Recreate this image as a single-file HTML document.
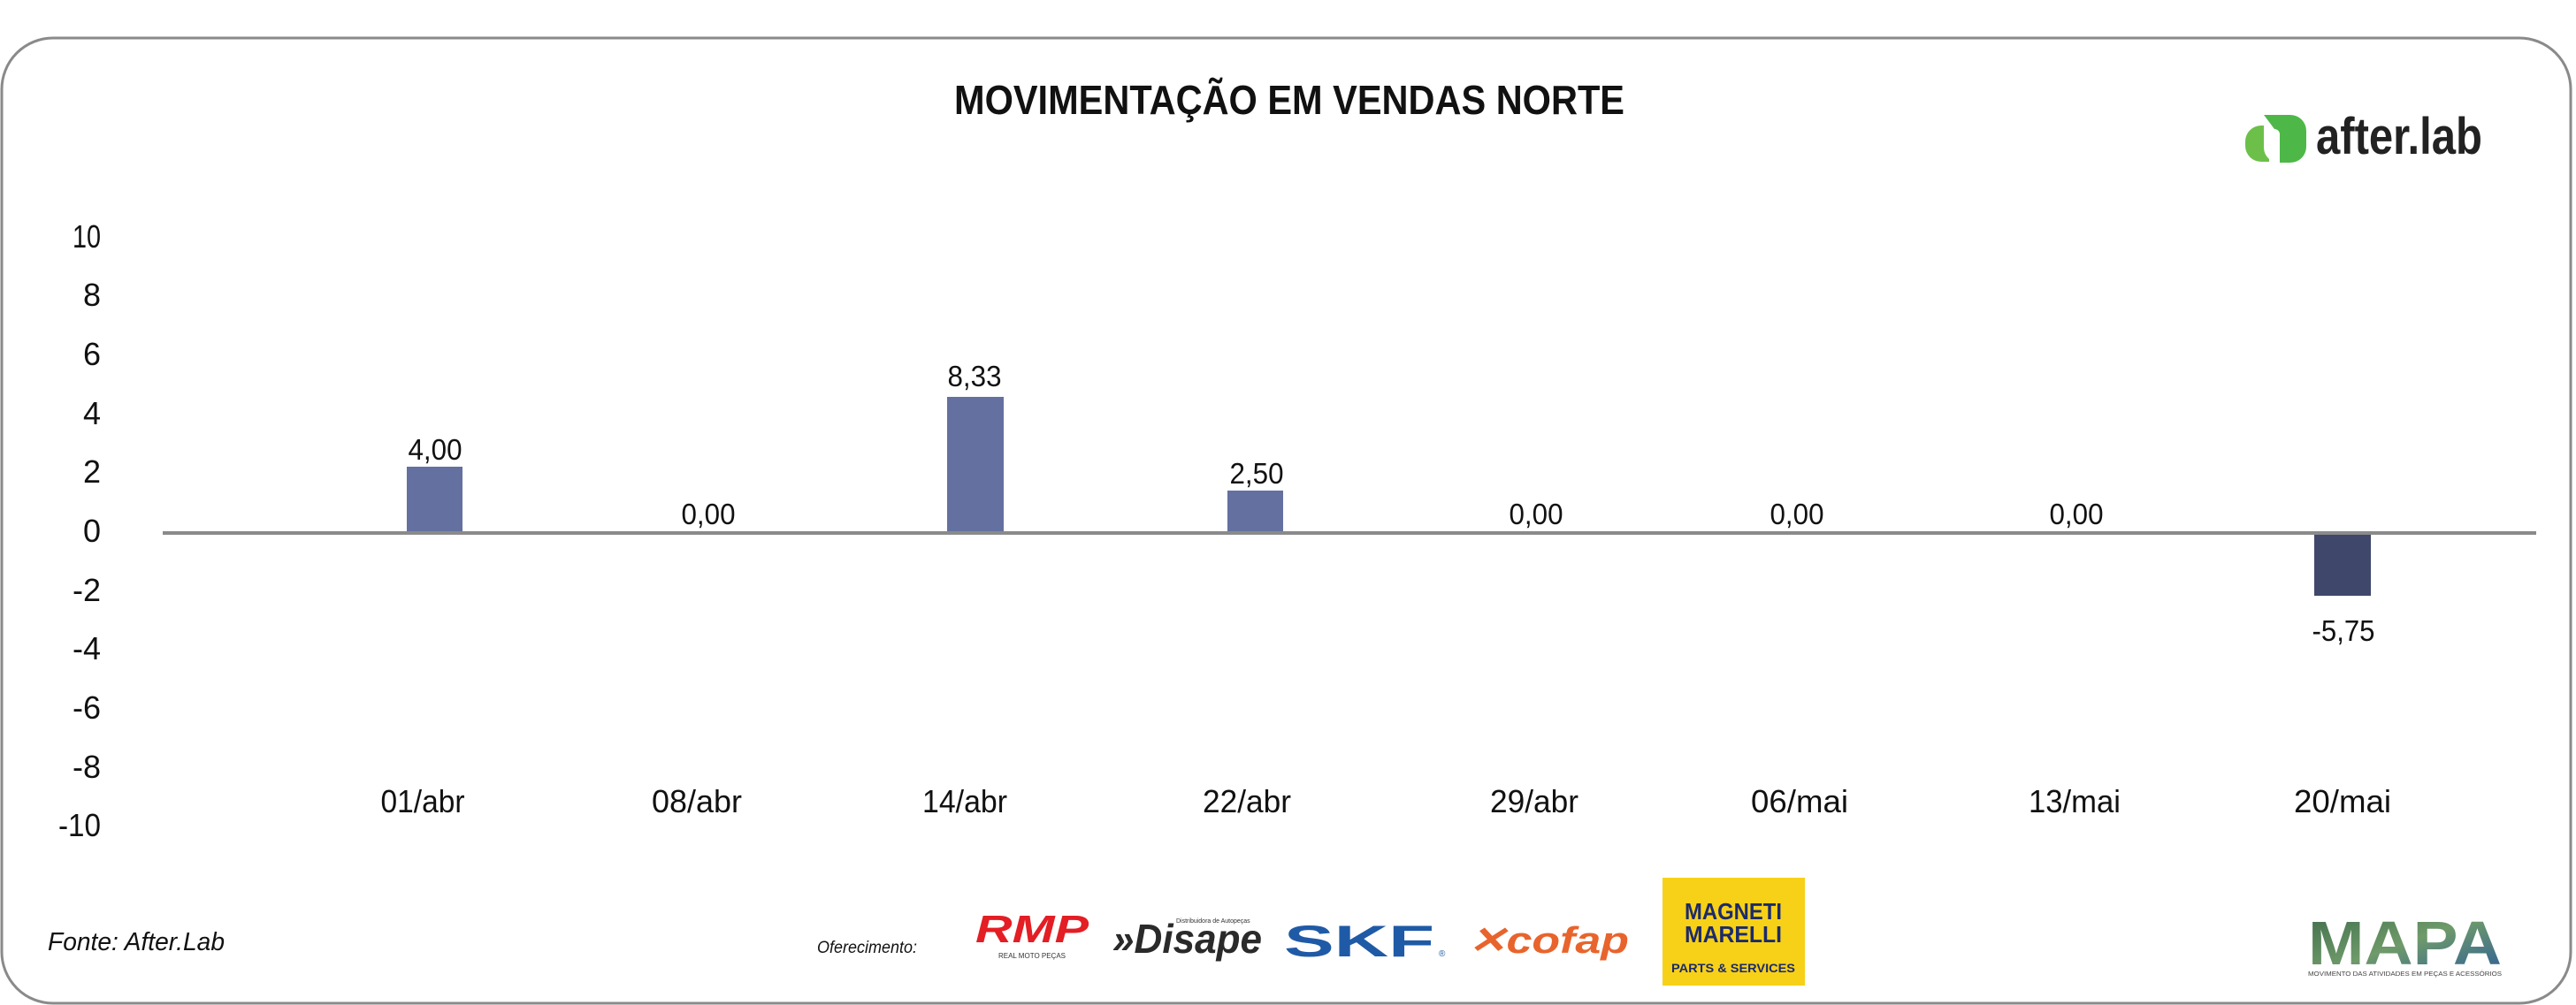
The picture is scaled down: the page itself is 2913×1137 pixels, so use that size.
<!DOCTYPE html>
<html><head><meta charset="utf-8"><style>html,body{margin:0;padding:0;background:#fff}svg{display:block}</style></head>
<body>
<svg width="2913" height="1137" viewBox="0 0 2913 1137" xmlns="http://www.w3.org/2000/svg" font-family="Liberation Sans, sans-serif">
<rect x="0" y="0" width="2913" height="1137" fill="#fff"/>
<rect x="2" y="43" width="2905" height="1092" rx="58" ry="58" fill="none" stroke="#8a8a8a" stroke-width="3"/>
<text x="1458" y="129" text-anchor="middle" font-size="46" font-weight="bold" fill="#111" textLength="758" lengthAdjust="spacingAndGlyphs">MOVIMENTAÇÃO EM VENDAS NORTE</text>
<path d="M2560 130 h30 a18 18 0 0 1 18 18 v18 a18 18 0 0 1 -18 18 h-12 v-32 a6 6 0 0 0 -6 -6 z" fill="#4db848"/>
<path d="M2539 160 a18 18 0 0 1 18 -18 h3 v24 a18 18 0 0 0 6 14 v3 h-9 a18 18 0 0 1 -18 -18 z" fill="#6cc04a"/>
<text x="2619" y="174" font-size="58" font-weight="bold" fill="#222" textLength="188" lengthAdjust="spacingAndGlyphs">after.lab</text>
<g font-size="36" fill="#111" text-anchor="end">
<text x="114" y="280" textLength="32" lengthAdjust="spacingAndGlyphs">10</text><text x="114" y="346">8</text><text x="114" y="413">6</text><text x="114" y="480">4</text><text x="114" y="546">2</text><text x="114" y="613">0</text><text x="114" y="680" textLength="32" lengthAdjust="spacingAndGlyphs">-2</text><text x="114" y="746" textLength="32" lengthAdjust="spacingAndGlyphs">-4</text><text x="114" y="813" textLength="32" lengthAdjust="spacingAndGlyphs">-6</text><text x="114" y="880" textLength="32" lengthAdjust="spacingAndGlyphs">-8</text><text x="114" y="946" textLength="48" lengthAdjust="spacingAndGlyphs">-10</text>
</g>
<rect x="460" y="528" width="63" height="75" fill="#6470a0"/>
<rect x="1071" y="449" width="64" height="154" fill="#6470a0"/>
<rect x="1388" y="555" width="63" height="48" fill="#6470a0"/>
<rect x="2617" y="603" width="64" height="71" fill="#3f476b"/>
<line x1="184" y1="603" x2="2868" y2="603" stroke="#8a8a8a" stroke-width="4"/>
<g font-size="33" fill="#111" text-anchor="middle">
<text x="492" y="520" textLength="61" lengthAdjust="spacingAndGlyphs">4,00</text><text x="801" y="593" textLength="61" lengthAdjust="spacingAndGlyphs">0,00</text><text x="1102" y="437" textLength="61" lengthAdjust="spacingAndGlyphs">8,33</text><text x="1421" y="547" textLength="61" lengthAdjust="spacingAndGlyphs">2,50</text>
<text x="1737" y="593" textLength="61" lengthAdjust="spacingAndGlyphs">0,00</text><text x="2032" y="593" textLength="61" lengthAdjust="spacingAndGlyphs">0,00</text><text x="2348" y="593" textLength="61" lengthAdjust="spacingAndGlyphs">0,00</text><text x="2650" y="725" textLength="71" lengthAdjust="spacingAndGlyphs">-5,75</text>
</g>
<g font-size="36" fill="#111" text-anchor="middle">
<text x="478" y="919" textLength="95" lengthAdjust="spacingAndGlyphs">01/abr</text><text x="788" y="919" textLength="102" lengthAdjust="spacingAndGlyphs">08/abr</text><text x="1091" y="919" textLength="96" lengthAdjust="spacingAndGlyphs">14/abr</text><text x="1410" y="919" textLength="100" lengthAdjust="spacingAndGlyphs">22/abr</text>
<text x="1735" y="919" textLength="100" lengthAdjust="spacingAndGlyphs">29/abr</text><text x="2035" y="919" textLength="110" lengthAdjust="spacingAndGlyphs">06/mai</text><text x="2346" y="919" textLength="104" lengthAdjust="spacingAndGlyphs">13/mai</text><text x="2649" y="919" textLength="110" lengthAdjust="spacingAndGlyphs">20/mai</text>
</g>
<text x="54" y="1075" font-size="29" font-style="italic" fill="#111" textLength="200" lengthAdjust="spacingAndGlyphs">Fonte: After.Lab</text>
<text x="924" y="1078" font-size="19" font-style="italic" fill="#111" textLength="113" lengthAdjust="spacingAndGlyphs">Oferecimento:</text>
<text x="1103" y="1066" font-size="44" font-weight="bold" font-style="italic" fill="#e31e24" textLength="128" lengthAdjust="spacingAndGlyphs">RMP</text>
<text x="1167" y="1084" font-size="8" fill="#333" text-anchor="middle">REAL MOTO PEÇAS</text>
<text x="1258" y="1078" font-size="46" font-weight="bold" font-style="italic" fill="#2a2a2a" textLength="169" lengthAdjust="spacingAndGlyphs">»Disape</text>
<text x="1330" y="1044" font-size="7" fill="#333">Distribuidora de Autopeças</text>
<text x="1452" y="1082" font-size="50" font-weight="bold" fill="#1f5aa6" textLength="170" lengthAdjust="spacingAndGlyphs">SKF</text>
<text x="1627" y="1082" font-size="10" fill="#1f5aa6">®</text>
<text x="1660" y="1078" font-size="42" font-weight="bold" font-style="italic" fill="#e8642c" textLength="182" lengthAdjust="spacingAndGlyphs">✕cofap</text>
<rect x="1880" y="993" width="161" height="122" fill="#f7d117"/>
<text x="1960" y="1040" font-size="26" font-weight="bold" fill="#1c2a6b" text-anchor="middle" textLength="110" lengthAdjust="spacingAndGlyphs">MAGNETI</text>
<text x="1960" y="1066" font-size="26" font-weight="bold" fill="#1c2a6b" text-anchor="middle" textLength="110" lengthAdjust="spacingAndGlyphs">MARELLI</text>
<text x="1960" y="1100" font-size="14" font-weight="bold" fill="#1c2a6b" text-anchor="middle" textLength="140" lengthAdjust="spacingAndGlyphs">PARTS &amp; SERVICES</text>
<defs><linearGradient id="mg" x1="0" y1="0" x2="1" y2="1"><stop offset="0" stop-color="#3d6b4a"/><stop offset="0.5" stop-color="#6f9a6a"/><stop offset="1" stop-color="#2b5c9a"/></linearGradient></defs>
<text x="2610" y="1091" font-size="70" font-weight="bold" fill="url(#mg)" textLength="219" lengthAdjust="spacingAndGlyphs">MAPA</text>
<text x="2610" y="1104" font-size="7" fill="#444" textLength="219" lengthAdjust="spacingAndGlyphs">MOVIMENTO DAS ATIVIDADES EM PEÇAS E ACESSÓRIOS</text>
</svg>
</body></html>
